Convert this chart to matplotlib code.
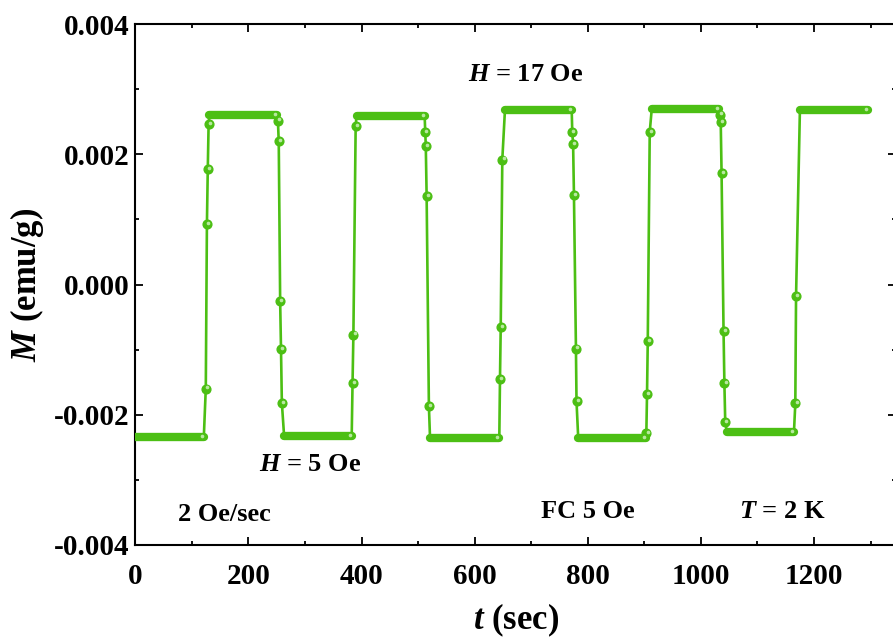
import matplotlib
matplotlib.use("Agg")
import matplotlib.pyplot as plt
from matplotlib.ticker import MultipleLocator, FormatStrFormatter
from matplotlib.transforms import offset_copy

plt.rcParams['font.family'] = ['Liberation Serif', 'DejaVu Serif']
plt.rcParams['font.weight'] = 'bold'
plt.rcParams['axes.unicode_minus'] = False
plt.rcParams['mathtext.fontset'] = 'custom'
plt.rcParams['mathtext.it'] = 'Liberation Serif:italic:bold'
plt.rcParams['mathtext.rm'] = 'Liberation Serif:bold'
plt.rcParams['mathtext.bf'] = 'Liberation Serif:bold'

# Field-held plateaus: start time, end time (sec) and magnetization (emu/g)
plateau_start = [0, 131, 263, 391, 521, 653.5, 783, 913, 1046, 1175]
plateau_end = [121, 251, 382.5, 511.5, 643.5, 771.5, 903, 1032.5, 1164.5, 1296]
plateau_M = [-0.002345, 0.00261, -0.00233, 0.002590, -0.002354, 0.002682,
             -0.002354, 0.002690, -0.002266, 0.002672]

# Measured points while the field ramps at 2 Oe/sec between plateaus
ramp_t = [
    [124.5, 126.5, 128.0, 129.5],
    [252.0, 253.5, 256.0, 257.5, 259.0],
    [384.0, 385.5, 389.5],
    [512.5, 513.5, 515.0, 519.0],
    [644.7, 646.0, 648.8],
    [772.5, 774.0, 775.5, 779.0, 780.0],
    [903.5, 904.7, 906.0, 909.5],
    [1033.5, 1035.0, 1036.5, 1040.0, 1041.5, 1043.0],
    [1166.9, 1168.2],
]
ramp_M = [
    [-0.001597, 0.000932, 0.001766, 0.002468],
    [0.002518, 0.002196, -0.000261, -0.000998, -0.001817],
    [-0.001509, -0.000768, 0.002430],
    [0.002345, 0.002124, 0.001356, -0.001869],
    [-0.001448, -0.000656, 0.001919],
    [0.002339, 0.002150, 0.001367, -0.000983, -0.001792],
    [-0.002277, -0.001678, -0.000871, 0.002345],
    [0.002610, 0.002498, 0.001715, -0.000717, -0.001520, -0.002114],
    [-0.001827, -0.000180],
]

green = '#4cbf14'
shine = '#b8e8a0'

fig = plt.figure(figsize=(8.93, 6.42), dpi=100)
ax = fig.add_axes([0.1516, 0.1511, 0.8518, 0.8115])

# Continuous trace through plateaus and ramps
t_all, M_all = [], []
for i in range(len(plateau_start)):
    t_all += [plateau_start[i], plateau_end[i]]
    M_all += [plateau_M[i], plateau_M[i]]
    if i < len(ramp_t):
        t_all += ramp_t[i]
        M_all += ramp_M[i]
ax.plot(t_all, M_all, color=green, lw=1.9, zorder=2)

# Dense plateau points merge into a thick rounded bar
for s, e, m in zip(plateau_start, plateau_end, plateau_M):
    ax.plot([s, e], [m, m], color=green, lw=6.0, solid_capstyle='round', zorder=3)
    ax.plot([e], [m], 'o', color=shine, ms=1.6, zorder=5,
            transform=offset_copy(ax.transData, fig, x=-2, y=1, units='dots'))

# Individual ramp points with a small glossy highlight
rt = [v for row in ramp_t for v in row]
rm = [v for row in ramp_M for v in row]
ax.plot(rt, rm, 'o', color=green, ms=6.3, mec=green, zorder=4)
ax.plot(rt, rm, 'o', color=shine, ms=1.6, zorder=5,
        transform=offset_copy(ax.transData, fig, x=1.2, y=1.2, units='dots'))

ax.set_xlim(0, 1345)
ax.set_ylim(-0.004, 0.004)
ax.xaxis.set_major_locator(MultipleLocator(200))
ax.xaxis.set_minor_locator(MultipleLocator(100))
ax.yaxis.set_major_locator(MultipleLocator(0.002))
ax.yaxis.set_minor_locator(MultipleLocator(0.001))
ax.yaxis.set_major_formatter(FormatStrFormatter('%.3f'))
ax.tick_params(which='both', direction='in', top=True, right=True, width=1.3,
               labelsize=21)
ax.tick_params(which='major', length=6)
ax.tick_params(which='minor', length=3)
ax.tick_params(axis='x', which='major', pad=13)
ax.tick_params(axis='y', which='major', pad=4)
for sp in ax.spines.values():
    sp.set_linewidth(1.5)

ax.set_xlabel(r'$t$ (sec)', fontsize=25, fontweight='bold', labelpad=8)
ax.set_ylabel(r'$M$ (emu/g)', fontsize=25, fontweight='bold', labelpad=6)

txt = dict(fontsize=19, fontweight='bold', ha='center', va='center')
ax.text(690, 0.003225, r'$H$ = 17 Oe', **txt)
ax.text(309, -0.002764, r'$H$ = 5 Oe', **txt)
ax.text(158, -0.00353, '2 Oe/sec', **txt)
ax.text(800, -0.00349, 'FC 5 Oe', **txt)
ax.text(1143, -0.00349, r'$T$ = 2 K', **txt)

fig.savefig('out.png', dpi=100)
